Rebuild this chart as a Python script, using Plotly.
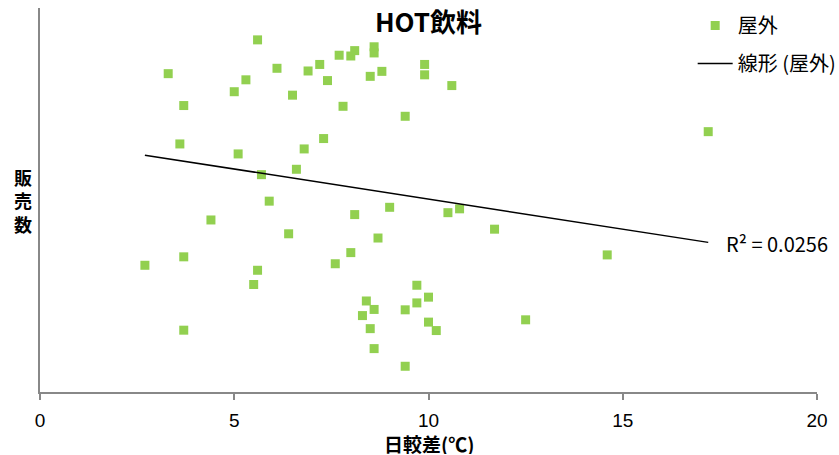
import numpy as np
import plotly.graph_objects as go

# 日較差(℃) and 販売数 for each outdoor observation
temp_range = [5.6, 3.3, 3.7, 3.6, 5.0, 5.3, 6.1, 6.5, 6.9, 7.2,
              7.4, 7.7, 8.0, 8.1, 8.6, 8.6, 8.5, 8.8, 7.8, 9.9,
              9.9, 10.6, 9.4, 17.2, 7.3, 6.8, 5.1, 6.6, 5.7, 5.9,
              4.4, 6.4, 8.1, 9.0, 10.5, 10.8, 11.7, 8.7, 8.0, 7.6,
              2.7, 3.7, 5.6, 5.5, 14.6, 9.7, 10.0, 9.7, 8.4, 8.6,
              9.4, 8.3, 10.0, 10.2, 8.5, 3.7, 8.6, 9.4, 12.5]
sales = [91.7, 82.9, 74.6, 64.6, 78.2, 81.3, 84.3, 77.3, 83.6, 85.3,
         81.1, 87.7, 87.5, 88.9, 89.9, 88.3, 82.2, 83.5, 74.4, 85.3,
         82.6, 79.8, 71.8, 67.8, 66.0, 63.3, 62.0, 58.0, 56.6, 49.7,
         44.8, 41.2, 46.2, 48.1, 46.7, 47.7, 42.4, 40.1, 36.3, 33.4,
         33.0, 35.2, 31.7, 28.0, 35.7, 27.8, 24.7, 23.2, 23.7, 21.5,
         21.4, 19.9, 18.2, 16.0, 16.5, 16.1, 11.3, 6.7, 18.8]

# linear trendline (y = slope * x + intercept) and its R²
trend_slope = -1.566
trend_intercept = 65.9
r_squared = 0.0256

x_ticks = [0, 5, 10, 15, 20]

GREEN = "#92D050"
AXIS_GRAY = "#888888"
JP_FONT = "Noto Sans CJK JP, Noto Sans, sans-serif"
NUM_FONT = "Liberation Sans Narrow, Liberation Sans, Arial, sans-serif"

W, H = 839, 455
ML, MR, MT, MB = 40, 22, 8, 63
PW, PH = W - ML - MR, H - MT - MB

x_arr = np.array(temp_range)
trend_x = np.array([x_arr.min(), x_arr.max()])
trend_y = trend_slope * trend_x + trend_intercept

fig = go.Figure()

fig.add_trace(go.Scatter(
    x=temp_range, y=sales, mode="markers", name="屋外",
    legendgroup="a",
    marker=dict(symbol="square", size=9, color=GREEN,
                line=dict(width=0)),
))
fig.add_trace(go.Scatter(
    x=trend_x, y=trend_y, mode="lines", name="線形 (屋外)",
    legendgroup="b",
    line=dict(color="black", width=1.5),
))

fig.add_annotation(
    x=trend_x[-1], y=trend_y[-1], xref="x", yref="y",
    text=f"R² = {r_squared:.4f}", showarrow=False,
    xanchor="left", yanchor="middle", xshift=16, yshift=-1,
    font=dict(family=JP_FONT, size=20, color="black"),
)

# vertical y-axis title, stacked one character per line
fig.add_annotation(
    x=(23 - ML) / PW, y=1 - (200 - MT) / PH, xref="paper", yref="paper",
    text="<b>販<br>売<br>数</b>", showarrow=False,
    font=dict(family=JP_FONT, size=18, color="black"),
    xanchor="center", yanchor="middle", align="center",
)

# x-axis title below the tick labels
fig.add_annotation(
    x=0.5, y=1 - (443 - MT) / PH, xref="paper", yref="paper",
    text="<b>日較差(℃)</b>", showarrow=False, height=22, borderpad=0,
    font=dict(family=JP_FONT, size=19, color="black"),
    xanchor="center", yanchor="middle",
)

fig.update_layout(
    width=W, height=H,
    margin=dict(l=ML, r=MR, t=MT, b=MB, autoexpand=False),
    paper_bgcolor="white", plot_bgcolor="white",
    font=dict(family=JP_FONT, color="black"),
    title=dict(
        text="<b>HOT飲料</b>", x=0.5, xref="paper", xanchor="center",
        y=1 - 23 / H, yref="container", yanchor="middle",
        font=dict(family=JP_FONT, size=26, color="black"),
    ),
    showlegend=True,
    legend=dict(
        x=1.0 - 0.16, xref="paper", xanchor="left",
        y=1.0 + 2 / PH, yref="paper", yanchor="top",
        font=dict(family=JP_FONT, size=20, color="black"),
        bgcolor="rgba(0,0,0,0)", borderwidth=0,
        tracegroupgap=9, itemwidth=35,
    ),
    xaxis=dict(
        range=[0, 20], tickvals=x_ticks, ticktext=[str(t) for t in x_ticks],
        showgrid=False, zeroline=False, automargin=False,
        showline=True, linecolor=AXIS_GRAY, linewidth=1.5,
        ticks="outside", ticklen=6, tickcolor=AXIS_GRAY, tickwidth=1.5,
        tickfont=dict(family=NUM_FONT, size=19, color="black"),
        ticklabelstandoff=4,
    ),
    yaxis=dict(
        range=[0, 100], showgrid=False, zeroline=False, automargin=False,
        showline=True, linecolor=AXIS_GRAY, linewidth=1.5,
        showticklabels=False, ticks="",
    ),
)

fig.write_html("out.html")
